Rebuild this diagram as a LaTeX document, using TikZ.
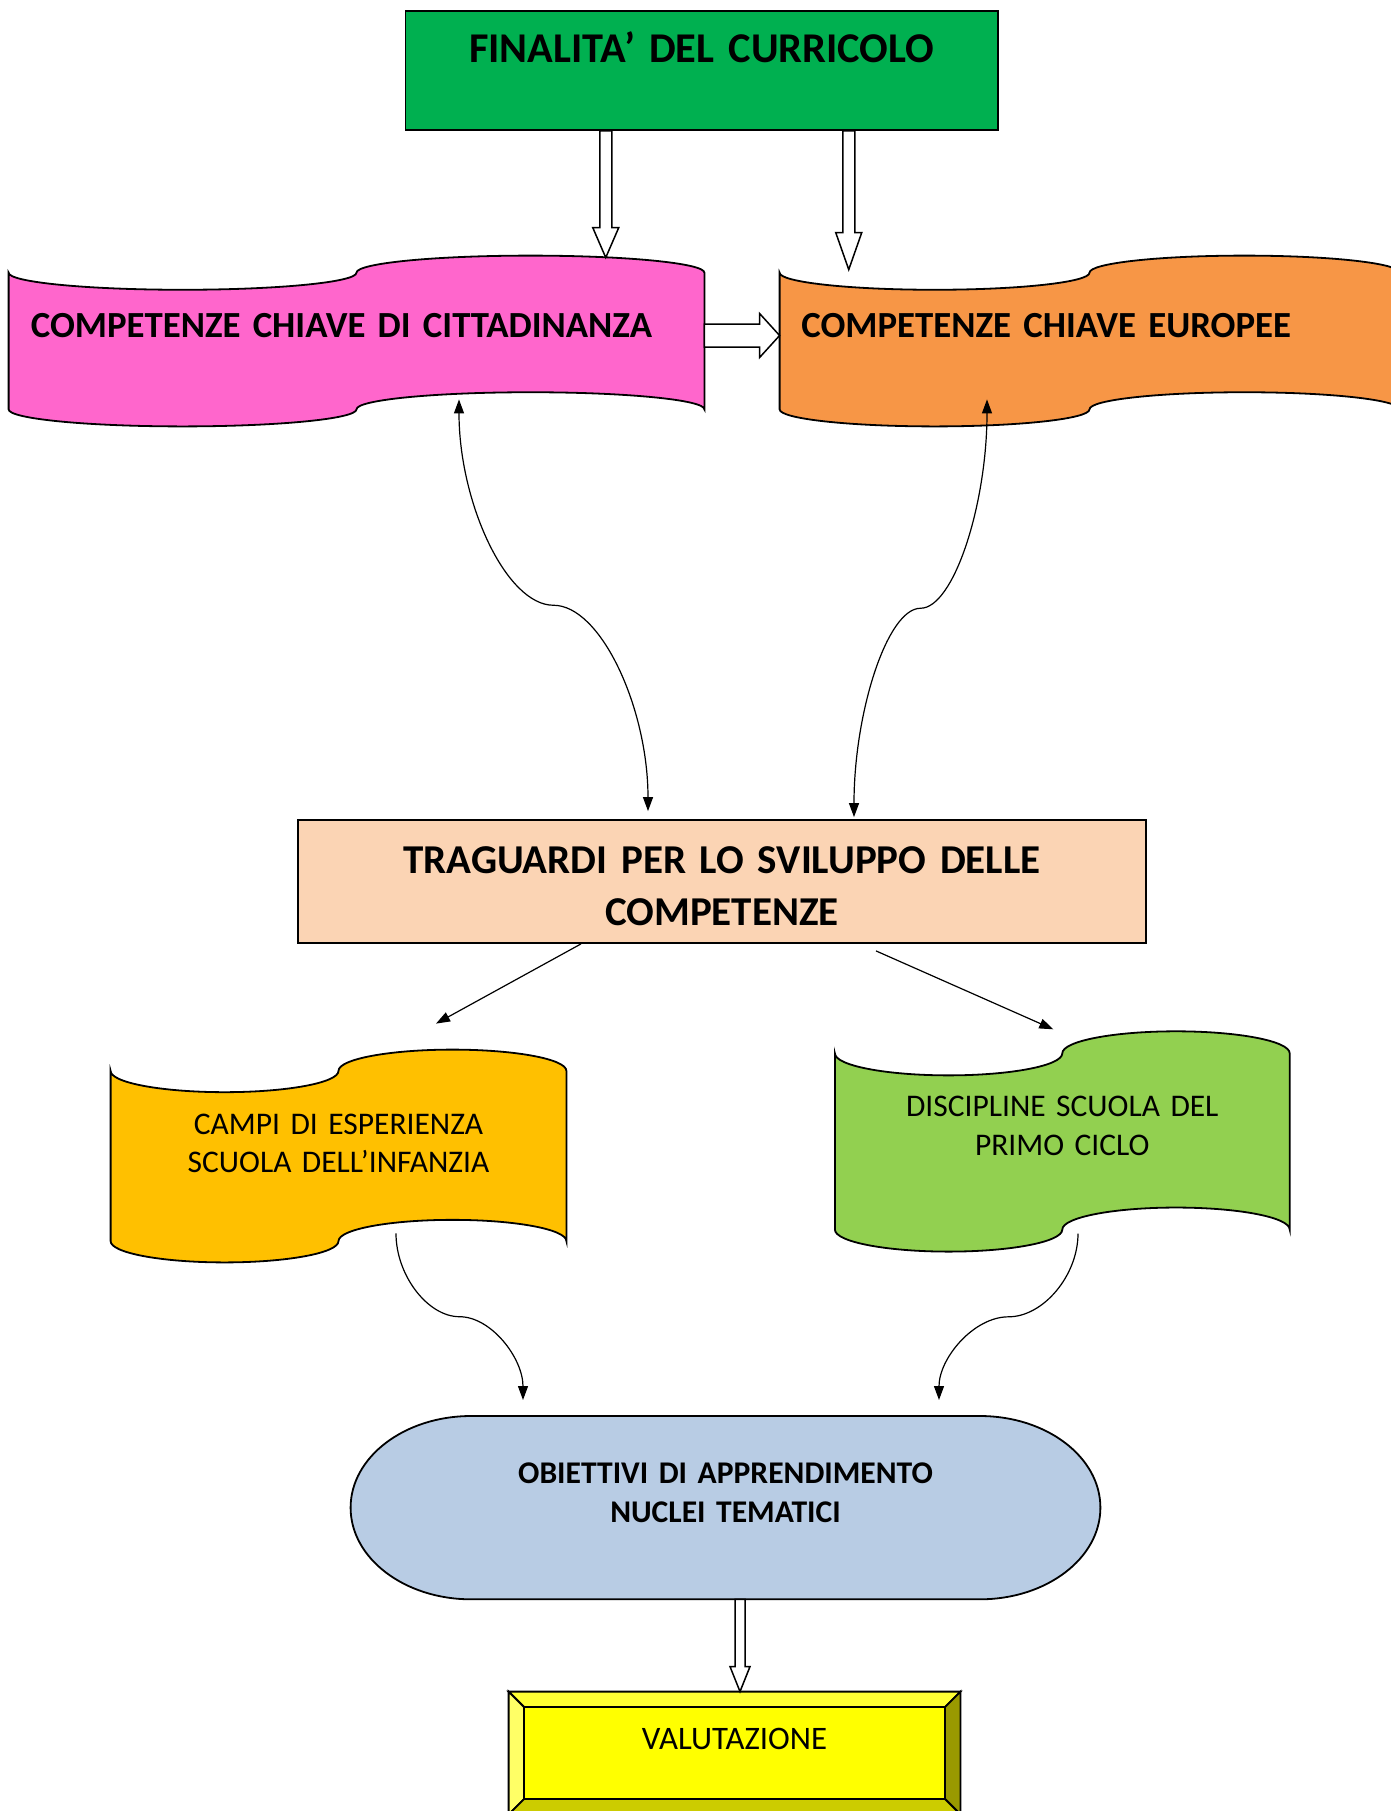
\documentclass[tikz,border=0pt]{standalone}
\usepackage{fontspec}
\setmainfont{Carlito}
\usetikzlibrary{calc}
\usetikzlibrary{arrows.meta}
\usetikzlibrary{backgrounds}

\definecolor{fingreen}{HTML}{00B050}
\definecolor{citpink}{HTML}{FF66CC}
\definecolor{eurorange}{HTML}{F79646}
\definecolor{tragpeach}{HTML}{FBD4B4}
\definecolor{campiamber}{HTML}{FFC000}
\definecolor{discgreen}{HTML}{92D050}
\definecolor{objblue}{HTML}{B8CCE4}
\definecolor{valyellow}{HTML}{FFFF00}
\definecolor{valtop}{HTML}{FFFF33}
\definecolor{valleft}{HTML}{FFFF66}
\definecolor{valright}{HTML}{999900}
\definecolor{valbottom}{HTML}{CCCC00}

\newcommand{\tapeshape}[2]{%
  \filldraw[fill=#2, outline] let \p1=(#1.north west), \p2=(#1.south east),
    \n1={(\x2-\x1)/4}, \n2={(\y1-\y2)/10}, \n3={0.5523*\n1}, \n4={0.5523*\n2} in
    (\x1,\y1-\n2)
    .. controls (\x1,\y1-\n2-\n4) and (\x1+\n1-\n3,\y1-2*\n2) .. (\x1+\n1,\y1-2*\n2)
    .. controls (\x1+\n1+\n3,\y1-2*\n2) and (\x1+2*\n1,\y1-\n2-\n4) .. (\x1+2*\n1,\y1-\n2)
    .. controls (\x1+2*\n1,\y1-\n2+\n4) and (\x1+3*\n1-\n3,\y1) .. (\x1+3*\n1,\y1)
    .. controls (\x1+3*\n1+\n3,\y1) and (\x2,\y1-\n2+\n4) .. (\x2,\y1-\n2)
    -- (\x2,\y2+\n2)
    .. controls (\x2,\y2+\n2+\n4) and (\x1+3*\n1+\n3,\y2+2*\n2) .. (\x1+3*\n1,\y2+2*\n2)
    .. controls (\x1+3*\n1-\n3,\y2+2*\n2) and (\x1+2*\n1,\y2+\n2+\n4) .. (\x1+2*\n1,\y2+\n2)
    .. controls (\x1+2*\n1,\y2+\n2-\n4) and (\x1+\n1+\n3,\y2) .. (\x1+\n1,\y2)
    .. controls (\x1+\n1-\n3,\y2) and (\x1,\y2+\n2-\n4) .. (\x1,\y2+\n2)
    -- cycle;}

\newcommand{\termshape}[2]{%
  \filldraw[fill=#2, outline] let \p1=(#1.north west), \p2=(#1.south east),
    \n1={0.1606*(\x2-\x1)}, \n2={(\y1-\y2)/2}, \n3={0.5523*\n1}, \n4={0.5523*\n2} in
    (\x1+\n1,\y1) -- (\x2-\n1,\y1)
    .. controls (\x2-\n1+\n3,\y1) and (\x2,\y1-\n2+\n4) .. (\x2,\y1-\n2)
    .. controls (\x2,\y1-\n2-\n4) and (\x2-\n1+\n3,\y2) .. (\x2-\n1,\y2)
    -- (\x1+\n1,\y2)
    .. controls (\x1+\n1-\n3,\y2) and (\x1,\y1-\n2-\n4) .. (\x1,\y1-\n2)
    .. controls (\x1,\y1-\n2+\n4) and (\x1+\n1-\n3,\y1) .. (\x1+\n1,\y1)
    -- cycle;}

\begin{document}
\begin{tikzpicture}[x=0.5pt, y=-0.5pt,
    >={Triangle[length=7pt,width=5pt]},
    outline/.style={draw=black, line width=0.9pt},
    link/.style={draw=black, line width=0.6pt},
    txt/.style={inner xsep=0pt, inner ysep=0pt, align=center},
    hollow down/.style n args={3}{fill=white, draw=black, line width=0.75pt,
      to path={let \p1=(\tikztostart), \p2=(\tikztotarget) in
        (\x1-#1,\y1) -- (\x1-#1,\y2+#3) -- (\x1-#2,\y2+#3) -- (\x1,\y2)
        -- (\x1+#2,\y2+#3) -- (\x1+#1,\y2+#3) -- (\x1+#1,\y1) -- cycle}},
    hollow right/.style n args={3}{fill=white, draw=black, line width=0.75pt,
      to path={let \p1=(\tikztostart), \p2=(\tikztotarget) in
        (\x1,\y1+#1) -- (\x2-#3,\y1+#1) -- (\x2-#3,\y1+#2) -- (\x2,\y1)
        -- (\x2-#3,\y1-#2) -- (\x2-#3,\y1-#1) -- (\x1,\y1-#1) -- cycle}}]

    \useasboundingbox (0,0) rectangle (1391,1811);

    \node[txt, outline, fill=fingreen, minimum width=296.25pt, text width=296.25pt,
      text height=25.85pt, text depth=33.65pt,
      font=\fontsize{21.2}{26}\selectfont\bfseries] (fin) at (701.75,70.5) {FINALITA’ DEL CURRICOLO};

    \node[txt, align=left, inner xsep=10.9pt, text width=325.7pt,
      text height=40.85pt, text depth=44.15pt,
      font=\fontsize{18.4}{23}\selectfont\bfseries] (cit) at (356.5,341) {COMPETENZE CHIAVE DI CITTADINANZA};
    \node[txt, align=left, inner xsep=10.7pt, text width=288.1pt,
      text height=40.85pt, text depth=44.15pt,
      font=\fontsize{18.4}{23}\selectfont\bfseries] (eur) at (1089.5,341) {COMPETENZE CHIAVE EUROPEE};

    \node[txt, outline, fill=tragpeach, text width=424pt,
      text height=26.65pt, text depth=34.85pt,
      font=\fontsize{20.5}{26}\selectfont\bfseries] (trag) at (722,881.5) {TRAGUARDI PER LO SVILUPPO DELLE\\COMPETENZE};

    \node[txt, text width=227.5pt, text height=42.15pt, text depth=63.85pt,
      font=\fontsize{15.75}{19.2}\selectfont] (campi) at (338.5,1156) {CAMPI DI ESPERIENZA\\SCUOLA DELL’INFANZIA};
    \node[txt, text width=227pt, text height=42.5pt, text depth=67.25pt,
      font=\fontsize{15.75}{19.2}\selectfont] (disc) at (1062.3,1141.45) {DISCIPLINE SCUOLA DEL\\PRIMO CICLO};

    \node[txt, text width=374.5pt, text height=33.45pt, text depth=57.8pt,
      font=\fontsize{15.8}{19.7}\selectfont\bfseries] (obj) at (725.5,1507.65) {OBIETTIVI DI APPRENDIMENTO\\NUCLEI TEMATICI};

    \node[txt, text width=225.5pt, text height=28.5pt, text depth=32.5pt,
      font=\fontsize{16.4}{19}\selectfont] (val) at (734.5,1753) {VALUTAZIONE};

    \begin{pgfonlayer}{background}
        \tapeshape{cit}{citpink}
        \tapeshape{eur}{eurorange}
        \tapeshape{campi}{campiamber}
        \tapeshape{disc}{discgreen}
        \termshape{obj}{objblue}

        \coordinate (vi1) at ($(val.north west)+(15.5,15.5)$);
        \coordinate (vi2) at ($(val.north east)+(-15.5,15.5)$);
        \coordinate (vi3) at ($(val.south east)+(-15.5,-15.5)$);
        \coordinate (vi4) at ($(val.south west)+(15.5,-15.5)$);
        \filldraw[fill=valtop, outline] (val.north west) -- (val.north east) -- (vi2) -- (vi1) -- cycle;
        \filldraw[fill=valleft, outline] (val.north west) -- (vi1) -- (vi4) -- (val.south west) -- cycle;
        \filldraw[fill=valright, outline] (val.north east) -- (val.south east) -- (vi3) -- (vi2) -- cycle;
        \filldraw[fill=valbottom, outline] (val.south west) -- (vi4) -- (vi3) -- (val.south east) -- cycle;
        \filldraw[fill=valyellow, outline] (vi1) rectangle (vi3);
    \end{pgfonlayer}

    \draw[hollow down={3pt}{6.5pt}{15pt}] ($(fin.south)+(-96,0)$) to ($(cit.north)+(0,2)$);
    \draw[hollow down={3pt}{6.5pt}{18.5pt}] ($(fin.south)+(147,0)$) to ($(eur.north)+(0,14)$);
    \draw[hollow right={5.75pt}{11pt}{10pt}] ($(cit.east)+(0,-5.5)$) to (eur.west);
    \draw[hollow down={2.5pt}{5pt}{12.5pt}] ($(obj.south)+(14.5,0)$) to (val.north);

    \coordinate (a1) at ($(cit.south)+(102.5,-27)$);
    \coordinate (a2) at ($(trag.north)+(-74,-8)$);
    \coordinate (am) at ($(a1)!0.5!(a2)$);
    \draw[link, <->] (a1) to[out=-90, in=180, out distance=51.6pt, in distance=23.6pt] (am)
        to[out=0, in=90, out distance=23.6pt, in distance=51.6pt] (a2);

    \coordinate (b1) at ($(eur.south)+(-102.5,-27)$);
    \coordinate (b2) at ($(trag.north)+(132,-2)$);
    \coordinate (bm) at ($(b1)!0.5!(b2)$);
    \draw[link, <->] (b1) to[out=-90, in=0, out distance=52.4pt, in distance=16.6pt] (bm)
        to[out=180, in=90, out distance=16.6pt, in distance=52.4pt] (b2);

    \draw[link, ->] ($(trag.south)+(-141,0)$) -- ($(campi.north)+(97.5,-26)$);
    \draw[link, ->] ($(trag.south)+(154,7)$) -- ($(disc.north)+(-9,-2)$);

    \coordinate (c1) at ($(campi.south)+(57.5,-29)$);
    \coordinate (c2) at ($(obj.north)+(-202.5,-16)$);
    \coordinate (cm) at ($(c1)!0.5!(c2)$);
    \draw[link, ->] (c1) to[out=-90, in=180, out distance=20.9pt, in distance=15.9pt] (cm)
        to[out=0, in=90, out distance=15.9pt, in distance=20.9pt] (c2);

    \coordinate (d1) at ($(disc.south)+(15.7,-18)$);
    \coordinate (d2) at ($(obj.north)+(213.5,-16)$);
    \coordinate (dm) at ($(d1)!0.5!(d2)$);
    \draw[link, ->] (d1) to[out=-90, in=0, out distance=20.9pt, in distance=17.4pt] (dm)
        to[out=180, in=90, out distance=17.4pt, in distance=20.9pt] (d2);

\end{tikzpicture}
\end{document}
